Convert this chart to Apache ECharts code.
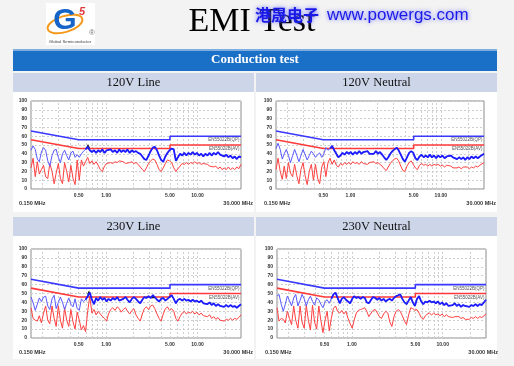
<!DOCTYPE html>
<html><head><meta charset="utf-8">
<script src="https://cdn.jsdelivr.net/npm/echarts@6/dist/echarts.min.js"></script>
<style>html,body{margin:0;padding:0;background:#f3f3f3}#c{width:514px;height:366px}</style>
</head><body><div id="c"></div><script>
// ---------------- DATA ----------------
const freqMHz = [0.150,0.158,0.167,0.176,0.185,0.195,0.206,0.217,0.229,0.241,
0.255,0.269,0.283,0.299,0.315,0.332,0.350,0.369,0.389,0.410,
0.433,0.456,0.481,0.507,0.535,0.564,0.594,0.627,0.661,0.697,
0.735,0.775,0.817,0.861,0.908,0.958,1.01,1.06,1.12,1.18,
1.25,1.32,1.39,1.46,1.54,1.63,1.71,1.81,1.91,2.01,
2.12,2.24,2.36,2.49,2.62,2.76,2.91,3.07,3.24,3.41,
3.60,3.80,4.00,4.22,4.45,4.69,4.95,5.22,5.50,5.80,
6.12,6.45,6.80,7.17,7.56,7.97,8.41,8.87,9.35,9.86,
10.4,11.0,11.6,12.2,12.9,13.6,14.3,15.1,15.9,16.8,
17.7,18.6,19.6,20.7,21.8,23.0,24.3,25.6,27.0,28.4,30.0];

const limitFreq = [0.15, 0.5, 5, 5, 30];
const qpLimit = [66, 56, 56, 60, 60];
const avLimit = [56, 46, 46, 50, 50];
const qpLimitName = 'EN55022B(QP)';
const avLimitName = 'EN55022B(AV)';

const panelTitles = ['120V Line', '120V Neutral', '230V Line', '230V Neutral'];
const xTickLabels = [0.5, 1, 5, 10];
const xGridFreqs = [0.2,0.3,0.4,0.5,0.6,0.7,0.8,0.9,1,2,3,4,5,6,7,8,9,10,20];
const xStartLabel = '0.150 MHz';
const xEndLabel = '30.000 MHz';

// 120V Line
const qp1 = [44,49,45,34,31,42,47,44,32,26, 38,44,45,36,30,40,44,38,33,41,
43,36,39,36,40,43,45,48,44,42, 44,41,44,42,45,41,44,42,45,42,
44,41,45,42,44,42,45,41,44,42, 43,41,40,37,34,33,38,43,47,48,
44,38,33,31,37,41,44,46,45,32, 36,40,38,41,38,41,39,42,39,41,
38,40,37,40,38,41,38,41,39,42, 39,41,37,39,36,38,35,37,34,37, 36];
const av1 = [24,35,14,31,17,22,27,14,12,29, 20,6,18,29,12,6,30,20,8,27,
12,5,33,10,33,26,31,36,29,32, 28,31,27,22,20,26,29,28,30,29,
31,30,32,30,31,29,31,30,31,29, 30,28,25,22,20,24,29,32,34,33,
28,22,20,24,29,33,32,30,24,20, 23,26,29,28,30,28,30,29,31,29,
30,28,29,27,28,26,27,25,26,23, 25,22,24,22,25,22,24,22,25,23, 28];
// 120V Neutral
const qp2 = [46,52,45,34,40,45,38,30,38,45, 38,31,38,45,39,33,38,43,40,36,
39,41,36,40,47,44,46,49,44,40, 36,38,41,39,42,40,42,39,42,40,
43,40,42,40,43,40,42,40,43,40, 42,39,36,33,36,40,43,45,47,44,
39,34,31,36,41,43,41,35,33,37, 39,36,38,36,39,36,38,35,38,36,
38,35,37,35,38,36,37,34,36,34, 36,33,36,34,37,35,37,35,37,36, 40];
const av2 = [22,35,20,11,26,12,30,18,14,28, 15,6,22,30,15,5,20,28,10,28,
12,6,25,31,14,30,35,28,33,27, 25,29,27,30,28,30,28,31,29,30,
28,31,29,30,28,30,29,31,29,30, 28,26,23,21,25,29,32,34,35,32,
26,21,20,26,30,32,28,24,22,27, 29,27,28,26,28,26,28,27,28,26,
27,25,27,25,26,24,26,24,25,23, 25,24,25,23,25,24,26,25,27,26, 30];
// 230V Line
const qp3 = [46,40,31,38,45,41,46,47,36,32, 44,48,33,40,46,40,32,39,45,38,
35,44,33,31,44,41,43,47,51,43, 38,45,42,46,43,45,41,44,42,45,
43,46,42,40,44,46,43,40,44,46, 44,41,39,43,46,45,47,45,48,46,
43,41,44,45,42,44,46,48,44,39, 43,44,42,44,42,43,41,43,41,42,
40,42,39,41,38,40,37,39,36,38, 36,38,35,37,35,37,35,36,34,36, 38];
const av3 = [34,22,20,19,25,17,28,36,20,16, 36,22,13,36,20,11,34,20,13,32,
18,10,29,20,9,14,7,30,47,28, 32,26,30,27,24,22,19,27,32,34,
31,35,33,29,32,34,30,27,31,33, 26,22,19,27,33,35,32,36,37,33,
27,22,19,27,33,35,31,33,30,22, 19,24,28,30,27,29,28,30,27,29,
26,28,25,27,24,26,22,24,21,23, 20,22,19,21,20,22,20,22,21,23, 26];
// 230V Neutral
const qp4 = [47,49,38,30,38,47,42,36,45,49, 36,42,49,44,36,43,47,41,37,45,
43,38,34,41,43,39,44,49,51,45, 39,44,46,43,41,39,44,47,45,46,
44,46,45,40,39,43,46,45,43,45, 42,44,41,43,44,42,45,47,48,49,
44,40,38,42,46,40,36,44,47,41, 38,41,40,42,40,41,39,41,38,40,
37,39,36,38,37,39,36,38,35,37, 36,38,35,37,36,38,36,38,37,39, 43];
const av4 = [34,19,22,21,17,30,22,15,36,20, 11,36,18,11,37,20,9,37,18,10,
36,20,6,20,30,8,22,33,36,30, 28,31,27,30,22,16,11,20,28,31,
32,33,34,30,24,28,31,32,28,24, 22,27,30,28,18,13,24,30,32,30,
25,19,15,26,34,33,31,32,28,23, 21,25,27,28,26,28,26,27,25,27,
24,26,24,25,23,24,22,24,22,23, 21,23,21,23,22,24,22,24,23,25, 27];

const peaks1 = [[0.632, 49]];
const peaks2 = [];
const peaks3 = [[0.648, 51], [3.26, 47]];
const peaks4 = [];

const qpSets = [qp1, qp2, qp3, qp4];
const avSets = [av1, av2, av3, av4];
const peakSets = [peaks1, peaks2, peaks3, peaks4];

// ---------------- LAYOUT ----------------
const layouts = [
  {left:31, top:101, width:210, height:88},
  {left:276, top:101, width:208, height:88},
  {left:31, top:249, width:210, height:89},
  {left:277, top:249, width:209, height:89}
];
const FS = 'Liberation Sans, Arial, sans-serif';
const SERIF = 'Liberation Serif, Times New Roman, serif';
const GRIDC = '#cfcfcf';

const chart = echarts.init(document.getElementById('c'));
const grid = [], xAxis = [], yAxis = [], series = [];
const pair = (xs, ys) => xs.map((x, j) => [x, ys[j]]);

layouts.forEach((l, i) => {
  grid.push({left:l.left, top:l.top, width:l.width, height:l.height, show:true,
    backgroundColor:'#fff', borderColor:'#8c8c8c', borderWidth:1});
  xAxis.push({type:'log', logBase:10, gridIndex:i, min:0.15, max:30,
    axisLine:{show:false}, axisTick:{show:false}, splitLine:{show:false}, minorTick:{show:false},
    axisLabel:{customValues:xTickLabels, formatter:(v)=>Number(v).toFixed(2), fontSize:5,
      fontWeight:'bold', color:'#333', margin:4, fontFamily:FS}});
  yAxis.push({type:'value', gridIndex:i, min:0, max:100, interval:10,
    axisLine:{show:false}, axisTick:{show:false},
    splitLine:{show:true, lineStyle:{color:GRIDC, type:[2,2], width:1}},
    axisLabel:{fontSize:5, fontWeight:'bold', color:'#333', margin:4, fontFamily:FS}});
  const qp = qpSets[i], av = avSets[i];
  series.push({type:'line', xAxisIndex:i, yAxisIndex:i, data:pair(limitFreq, qpLimit),
    symbol:'none', z:3, lineStyle:{color:'#3838ff', width:1.6}, itemStyle:{color:'#3838ff'},
    markLine:{silent:true, symbol:'none', z:1, label:{show:false},
      lineStyle:{color:GRIDC, type:[2,2], width:1},
      data:xGridFreqs.map(f => ({xAxis:f}))},
    markPoint:{symbol:'rect', symbolSize:1, itemStyle:{color:'rgba(0,0,0,0)'}, silent:true,
      label:{show:true, formatter:qpLimitName, position:[-1,2], align:'right', verticalAlign:'top',
        fontSize:4.5, color:'#555', fontFamily:FS},
      data:[{coord:[30, qpLimit[qpLimit.length-1]]}]}});
  series.push({type:'line', xAxisIndex:i, yAxisIndex:i, data:pair(limitFreq, avLimit),
    symbol:'none', z:3, lineStyle:{color:'#ff3a3a', width:1.6}, itemStyle:{color:'#ff3a3a'},
    markPoint:{symbol:'rect', symbolSize:1, itemStyle:{color:'rgba(0,0,0,0)'}, silent:true,
      label:{show:true, formatter:avLimitName, position:[-1,2], align:'right', verticalAlign:'top',
        fontSize:4.5, color:'#555', fontFamily:FS},
      data:[{coord:[30, avLimit[avLimit.length-1]]}]}});
  series.push({type:'line', xAxisIndex:i, yAxisIndex:i, data:pair(freqMHz, av),
    symbol:'none', z:4, lineStyle:{color:'#ff4040', width:1}});
  series.push({type:'line', xAxisIndex:i, yAxisIndex:i, data:pair(freqMHz, qp),
    symbol:'none', z:5, lineStyle:{color:'#5858ff', width:1}});
  series.push({type:'line', xAxisIndex:i, yAxisIndex:i, data:pair(freqMHz, qp).slice(26),
    symbol:'none', z:5, lineStyle:{color:'#1c1cff', width:1.8},
    markPoint:{symbol:'triangle', symbolSize:[4,4], itemStyle:{color:'#111'}, silent:true,
      label:{show:false}, data:peakSets[i].map(p => ({coord:p}))}});
});

// ---------------- DECORATION ----------------
const graphic = [];
const Z = -5;
// logo
graphic.push({type:'rect', z:Z, shape:{x:46, y:3, width:49, height:42}, style:{fill:'#fff'}});
graphic.push({type:'ellipse', z:Z+1, x:65, y:24, rotation:0.3, shape:{cx:0, cy:0, rx:18, ry:8},
  style:{fill:'none', stroke:'#f39a1e', lineWidth:2}});
graphic.push({type:'text', z:Z+2, x:65, y:21, style:{text:'G', fontSize:30, fontWeight:'bold',
  fill:'#1565c8', align:'center', verticalAlign:'middle', fontFamily:FS}});
graphic.push({type:'text', z:Z+2, x:82, y:12, style:{text:'5', fontSize:11, fontWeight:'bold',
  fontStyle:'italic', fill:'#e23a3a', align:'center', verticalAlign:'middle', fontFamily:FS}});
graphic.push({type:'text', z:Z+2, x:92, y:33, style:{text:'®', fontSize:8, fill:'#777',
  align:'center', verticalAlign:'middle', fontFamily:FS}});
graphic.push({type:'text', z:Z+2, x:70, y:42, style:{text:'Global Semiconductor', fontSize:4.3,
  fill:'#444', align:'center', verticalAlign:'middle', fontFamily:FS}});
// title
graphic.push({type:'text', z:Z+2, x:252, y:22, style:{text:'EMI Test', fontSize:34, fill:'#000',
  align:'center', verticalAlign:'middle', fontFamily:SERIF}});
// watermark
graphic.push({type:'text', z:Z+3, x:255, y:15, style:{text:'港晟电子', fontSize:16, fontWeight:'bold',
  fill:'#1a1ae8', verticalAlign:'middle', fontFamily:'Noto Sans CJK SC',
  textShadowColor:'rgba(90,90,255,0.9)', textShadowBlur:4}});
graphic.push({type:'text', z:Z+3, x:327, y:15, style:{text:'www.powergs.com', fontSize:17,
  fill:'#1a1ae8', verticalAlign:'middle', fontFamily:FS,
  textShadowColor:'rgba(90,90,255,0.9)', textShadowBlur:4}});
// blue band
graphic.push({type:'rect', z:Z, shape:{x:13, y:49, width:484, height:22}, style:{fill:'#1a6fc7'}});
graphic.push({type:'rect', z:Z, shape:{x:13, y:49, width:484, height:2}, style:{fill:'#7eaee0'}});
graphic.push({type:'text', z:Z+1, x:255, y:60, style:{text:'Conduction test', fontSize:13,
  fontWeight:'bold', fill:'#fff', align:'center', verticalAlign:'middle', fontFamily:SERIF}});
// panels and sub-headers
const panelBoxes = [
  {x:13, y:73, w:241}, {x:256, y:73, w:241}, {x:13, y:217, w:241}, {x:256, y:217, w:241}
];
panelBoxes.forEach((b, i) => {
  graphic.push({type:'rect', z:Z, shape:{x:b.x, y:b.y, width:b.w, height:19}, style:{fill:'#cdd5e9'}});
  graphic.push({type:'rect', z:Z, shape:{x:b.x, y:b.y+19, width:b.w, height:i < 2 ? 120 : 123},
    style:{fill:'#fff'}});
  graphic.push({type:'text', z:Z+1, x:b.x + b.w/2, y:b.y + 10, style:{text:panelTitles[i],
    fontSize:12.5, fill:'#111', align:'center', verticalAlign:'middle', fontFamily:SERIF}});
});
layouts.forEach((l) => {
  graphic.push({type:'text', z:Z+1, x:l.left - 12, y:l.top + l.height + 14, style:{text:xStartLabel,
    fontSize:5.5, fontWeight:'bold', fill:'#333', verticalAlign:'middle', fontFamily:FS}});
  graphic.push({type:'text', z:Z+1, x:l.left + l.width + 12, y:l.top + l.height + 14, style:{text:xEndLabel,
    fontSize:5.5, fontWeight:'bold', fill:'#333', align:'right', verticalAlign:'middle', fontFamily:FS}});
});

chart.setOption({
  animation:false,
  backgroundColor:'#f3f3f3',
  graphic:{elements:graphic},
  grid, xAxis, yAxis, series
});
</script></body></html>
